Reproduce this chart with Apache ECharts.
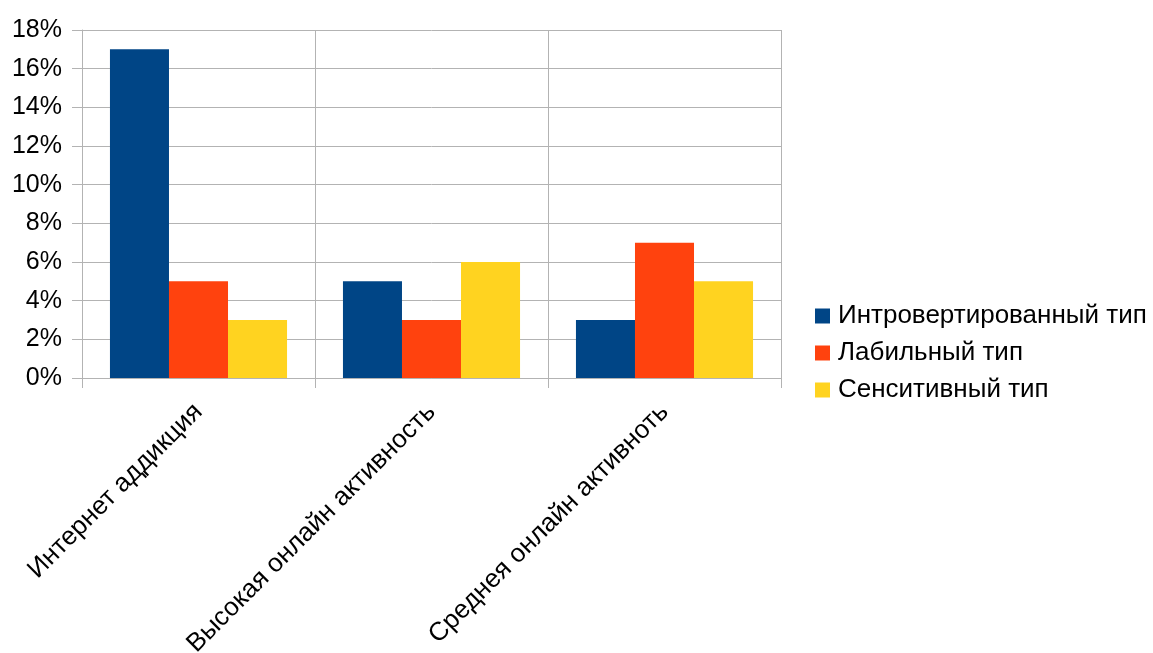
<!DOCTYPE html>
<html>
<head>
<meta charset="utf-8">
<script src="https://cdn.jsdelivr.net/npm/echarts@6/dist/echarts.min.js"></script>
<style>
  html, body { margin: 0; padding: 0; background: #fff; }
  #chart { width: 1153px; height: 653px; }
</style>
</head>
<body>
<div id="chart"></div>
<script>
// Categories along the x axis
const categories = ['Интернет аддикция', 'Высокая онлайн активность', 'Среднея онлайн активноть'];

// Series names and their percentages
const seriesNames = ['Интровертированный тип', 'Лабильный тип', 'Сенситивный тип'];
const introverted = [17, 5, 3];
const labile = [5, 3, 7];
const sensitive = [3, 6, 5];

const colors = ['#004586', '#ff420e', '#ffd320'];
const gridGray = '#b3b3b3';
const font = '"Liberation Sans", Arial, sans-serif';

const chart = echarts.init(document.getElementById('chart'), null, { renderer: 'canvas' });

function bar(name, data, color) {
  return {
    name: name,
    type: 'bar',
    data: data,
    itemStyle: { color: color },
    barGap: '0%',
    barCategoryGap: '24%'
  };
}

chart.setOption({
  animation: false,
  backgroundColor: '#ffffff',
  grid: {
    left: 82, right: 372, top: 30, bottom: 275,
    containLabel: false,
    outerBoundsMode: 'none'
  },
  legend: {
    orient: 'vertical',
    left: 810,
    top: 298,
    itemWidth: 15,
    itemHeight: 15,
    itemGap: 11,
    icon: 'rect',
    textStyle: { fontFamily: font, fontSize: 26, color: '#000', padding: [0, 0, 0, 3] },
    data: seriesNames
  },
  xAxis: {
    type: 'category',
    data: categories,
    axisLine: { show: true, lineStyle: { color: gridGray, width: 1 } },
    axisTick: { show: true, length: 10, lineStyle: { color: gridGray } },
    splitLine: { show: true, lineStyle: { color: gridGray, width: 1 } },
    axisLabel: {
      rotate: 45,
      interval: 0,
      margin: 30,
      fontFamily: font,
      fontSize: 26,
      color: '#000'
    }
  },
  yAxis: {
    type: 'value',
    min: 0,
    max: 18,
    interval: 2,
    axisLine: { show: true, lineStyle: { color: gridGray, width: 1 } },
    axisTick: { show: true, length: 10, lineStyle: { color: gridGray } },
    splitLine: { show: true, lineStyle: { color: gridGray, width: 1 } },
    axisLabel: {
      formatter: '{value}%',
      margin: 20,
      fontFamily: font,
      fontSize: 25,
      color: '#000'
    }
  },
  series: [
    bar(seriesNames[0], introverted, colors[0]),
    bar(seriesNames[1], labile, colors[1]),
    bar(seriesNames[2], sensitive, colors[2])
  ]
});
</script>
</body>
</html>
